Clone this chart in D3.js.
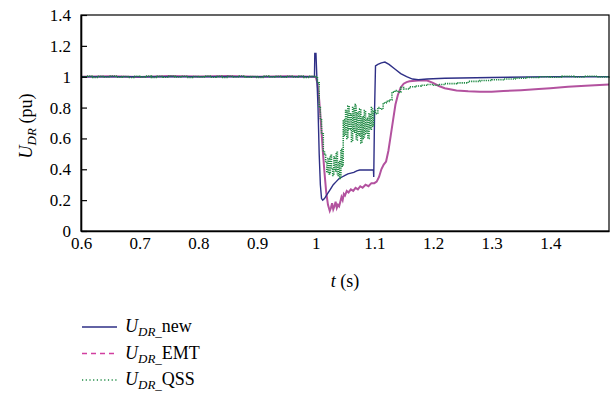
<!DOCTYPE html>
<html>
<head>
<meta charset="utf-8">
<script src="https://cdn.jsdelivr.net/npm/d3@7"></script>
<style>
body { margin: 0; background: #fff; }
svg text { font-family: "Liberation Serif", "DejaVu Serif", serif; fill: #000; }
</style>
</head>
<body>
<svg id="chart" width="612" height="399"></svg>
<script>
// axis ticks
var xTicks = [0.6, 0.7, 0.8, 0.9, 1, 1.1, 1.2, 1.3, 1.4];
var yTicks = [0, 0.2, 0.4, 0.6, 0.8, 1, 1.2, 1.4];

// U_DR_new
var tNew = [0.6, 0.998, 0.9985, 1.0005, 1.002, 1.004, 1.006, 1.008, 1.010, 1.012, 1.015, 1.020, 1.025, 1.030, 1.035, 1.040, 1.045, 1.050, 1.055, 1.060, 1.065, 1.070, 1.075, 1.0985, 1.099, 1.1005, 1.102, 1.106, 1.112, 1.118, 1.125, 1.135, 1.145, 1.155, 1.165, 1.175, 1.190, 1.220, 1.300, 1.400, 1.500];
var vNew = [1.0, 1.0, 1.15, 1.15, 1.0, 0.8, 0.5, 0.3, 0.21, 0.2, 0.21, 0.24, 0.27, 0.30, 0.32, 0.34, 0.35, 0.36, 0.37, 0.375, 0.38, 0.39, 0.395, 0.395, 0.35, 0.80, 1.07, 1.08, 1.09, 1.095, 1.08, 1.05, 1.02, 1.0, 0.985, 0.98, 0.985, 0.99, 0.995, 1.0, 1.0];

// U_DR_EMT
var tEmt = [0.6, 0.65, 0.7, 0.75, 0.8, 0.85, 0.9, 0.95, 1.0, 1.003, 1.006, 1.009, 1.012, 1.015, 1.018, 1.021, 1.024, 1.026, 1.028, 1.030, 1.032, 1.034, 1.036, 1.038, 1.040, 1.042, 1.044, 1.046, 1.048, 1.050, 1.053, 1.056, 1.060, 1.064, 1.068, 1.072, 1.076, 1.080, 1.085, 1.090, 1.095, 1.100, 1.104, 1.108, 1.112, 1.116, 1.120, 1.124, 1.128, 1.132, 1.136, 1.140, 1.145, 1.150, 1.155, 1.160, 1.175, 1.190, 1.200, 1.210, 1.220, 1.240, 1.260, 1.280, 1.300, 1.320, 1.350, 1.380, 1.400, 1.430, 1.460, 1.500];
var vEmt = [1.0, 1.003, 0.998, 1.004, 1.002, 1.005, 1.0, 1.003, 1.0, 0.96, 0.85, 0.70, 0.53, 0.38, 0.25, 0.17, 0.13, 0.15, 0.18, 0.14, 0.16, 0.19, 0.15, 0.17, 0.16, 0.19, 0.22, 0.20, 0.24, 0.23, 0.26, 0.25, 0.27, 0.26, 0.28, 0.27, 0.29, 0.28, 0.30, 0.29, 0.31, 0.31, 0.32, 0.35, 0.40, 0.43, 0.45, 0.52, 0.62, 0.72, 0.82, 0.88, 0.93, 0.955, 0.965, 0.97, 0.975, 0.975, 0.96, 0.94, 0.925, 0.91, 0.905, 0.903, 0.903, 0.907, 0.913, 0.92, 0.925, 0.935, 0.942, 0.95];

// U_DR_QSS
var tQss = [0.60, 0.61, 0.62, 0.63, 0.64, 0.65, 0.66, 0.67, 0.68, 0.69, 0.70, 0.71, 0.72, 0.73, 0.74, 0.75, 0.76, 0.77, 0.78, 0.79, 0.80, 0.81, 0.82, 0.83, 0.84, 0.85, 0.86, 0.87, 0.88, 0.89, 0.90, 0.91, 0.92, 0.93, 0.94, 0.95, 0.96, 0.97, 0.98, 0.99,
  1.000, 1.003, 1.006, 1.008, 1.010, 1.013, 1.015, 1.017, 1.019, 1.021, 1.023, 1.025, 1.027, 1.029, 1.031, 1.033, 1.035, 1.037, 1.039, 1.041, 1.043, 1.045, 1.047, 1.049, 1.051, 1.053, 1.055, 1.057, 1.059, 1.061, 1.063, 1.065, 1.067, 1.069, 1.071, 1.073, 1.075, 1.077, 1.079, 1.081, 1.083, 1.085, 1.087, 1.089, 1.091, 1.093, 1.095, 1.097, 1.099,
  1.102, 1.106, 1.110, 1.115, 1.120, 1.125, 1.130, 1.135, 1.140, 1.145, 1.150, 1.160, 1.170, 1.180, 1.190, 1.200, 1.210, 1.220, 1.240, 1.260, 1.280, 1.300, 1.320, 1.340, 1.360, 1.380, 1.400, 1.420, 1.440, 1.460, 1.480, 1.500];
var vQss = [1.0, 1.004, 0.996, 1.002, 0.998, 1.005, 0.997, 1.001, 0.995, 1.003, 0.999, 1.004, 0.996, 1.002, 0.997, 1.005, 0.998, 1.003, 0.996, 1.001, 0.999, 1.004, 0.997, 1.002, 0.995, 1.003, 0.998, 1.005, 0.997, 1.001, 0.996, 1.004, 0.999, 1.002, 0.997, 1.003, 0.998, 1.005, 0.996, 1.002,
  1.0, 0.96, 0.80, 0.72, 0.63, 0.52, 0.50, 0.45, 0.38, 0.47, 0.37, 0.49, 0.40, 0.36, 0.48, 0.39, 0.51, 0.36, 0.45, 0.34, 0.53, 0.42, 0.72, 0.62, 0.78, 0.60, 0.81, 0.66, 0.76, 0.58, 0.80, 0.64, 0.82, 0.59, 0.77, 0.62, 0.79, 0.57, 0.74, 0.60, 0.78, 0.63, 0.73, 0.60, 0.76, 0.66, 0.80, 0.68, 0.78,
  0.76, 0.80, 0.79, 0.83, 0.84, 0.85, 0.90, 0.91, 0.90, 0.93, 0.92, 0.935, 0.94, 0.945, 0.95, 0.945, 0.95, 0.955, 0.96, 0.97, 0.975, 0.98, 0.985, 0.99, 0.995, 1.0, 0.997, 1.002, 0.998, 1.003, 0.999, 1.001];

var seriesNames = ["new", "EMT", "QSS"];

var svg = d3.select("#chart");
var mLeft = 81, mRight = 609, mTop = 15, mBottom = 231;

var x = d3.scaleLinear().domain([0.6, 1.5]).range([mLeft, mRight]);
var y = d3.scaleLinear().domain([0, 1.4]).range([mBottom, mTop]);

function zip(ts, vs) { return ts.map(function (t, i) { return [t, vs[i]]; }); }

var line = d3.line().x(function (d) { return x(d[0]); }).y(function (d) { return y(d[1]); });
var stepLine = d3.line().curve(d3.curveStepAfter)
  .x(function (d) { return x(d[0]); }).y(function (d) { return y(d[1]); });

var plot = svg.append("g");

plot.append("path").datum(zip(tEmt, vEmt))
  .attr("d", line).attr("fill", "none")
  .attr("stroke", "#b3529f").attr("stroke-width", 2);

plot.append("path").datum(zip(tNew, vNew))
  .attr("d", line).attr("fill", "none")
  .attr("stroke", "#2e2f86").attr("stroke-width", 1.4);

plot.append("path").datum(zip(tQss, vQss))
  .attr("d", stepLine).attr("fill", "none")
  .attr("stroke", "#1f8a44").attr("stroke-width", 1.6)
  .attr("stroke-dasharray", "1.2,1");

// frame
svg.append("rect").attr("x", mLeft).attr("y", mTop)
  .attr("width", mRight - mLeft).attr("height", mBottom - mTop)
  .attr("fill", "none").attr("stroke", "#000").attr("stroke-width", 1.2);

// y axis, inward ticks
var fmt = function (d) { return String(+d.toFixed(1)); };
var yAxis = svg.append("g").attr("transform", "translate(" + mLeft + ",0)")
  .call(d3.axisLeft(y).tickValues(yTicks).tickSizeInner(-6).tickSizeOuter(0).tickPadding(10).tickFormat(fmt));
yAxis.select(".domain").attr("stroke-width", 1.6);
yAxis.selectAll("line").attr("stroke-width", 1.2);
yAxis.selectAll("text").attr("font-size", 17).style("font-family", "Liberation Serif");

var xAxis = svg.append("g").attr("transform", "translate(0," + mBottom + ")")
  .call(d3.axisBottom(x).tickValues(xTicks).tickSize(0).tickPadding(6).tickFormat(fmt));
xAxis.select(".domain").attr("stroke-width", 1.6);
xAxis.selectAll("text").attr("font-size", 17).style("font-family", "Liberation Serif");

// axis titles
var xt = svg.append("text").attr("x", (mLeft + mRight) / 2).attr("y", 287)
  .attr("text-anchor", "middle").attr("font-size", 18);
xt.append("tspan").attr("font-style", "italic").text("t");
xt.append("tspan").text(" (s)");

var yt = svg.append("text").attr("transform", "translate(32,126) rotate(-90)")
  .attr("text-anchor", "middle").attr("font-size", 18);
yt.append("tspan").attr("font-style", "italic").text("U");
yt.append("tspan").attr("font-style", "italic").attr("font-size", 13).attr("dy", 4).text("DR");
yt.append("tspan").attr("dy", -4).text(" (pu)");

// legend
var legStyles = [
  { color: "#2e2f86", dash: null, width: 1.4 },
  { color: "#d13fa0", dash: "5,4", width: 1.4 },
  { color: "#1f8a44", dash: "1.2,2.5", width: 1.4 }
];
var leg = svg.append("g");
seriesNames.forEach(function (name, i) {
  var yy = 327 + i * 26.5;
  leg.append("line").attr("x1", 82).attr("x2", 117).attr("y1", yy).attr("y2", yy)
    .attr("stroke", legStyles[i].color).attr("stroke-width", legStyles[i].width)
    .attr("stroke-dasharray", legStyles[i].dash);
  var t = leg.append("text").attr("x", 125).attr("y", yy + 5).attr("font-size", 18);
  t.append("tspan").attr("font-style", "italic").text("U");
  t.append("tspan").attr("font-style", "italic").attr("font-size", 13).attr("dy", 4).text("DR");
  t.append("tspan").attr("font-size", 13).text("_");
  t.append("tspan").attr("dy", -4).text(name);
});
</script>
</body>
</html>
